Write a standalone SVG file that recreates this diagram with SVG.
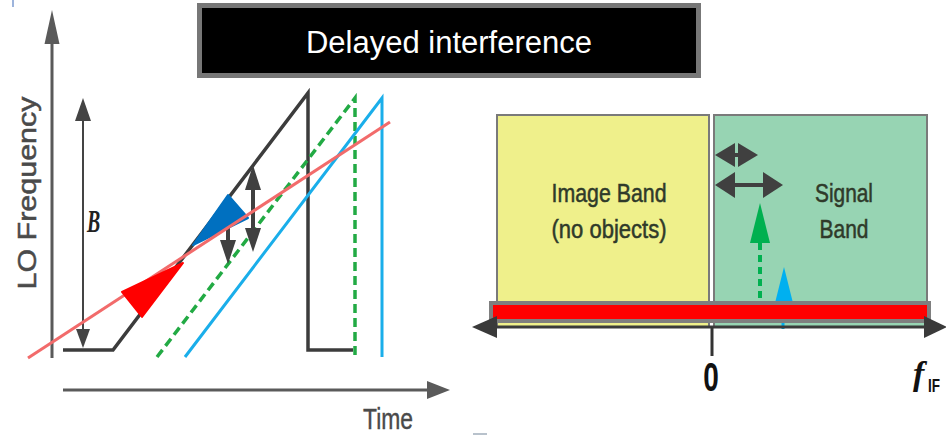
<svg xmlns="http://www.w3.org/2000/svg" width="946" height="436" viewBox="0 0 946 436">
<style>
.axis{stroke:#5a5a5a;stroke-width:3;fill:none}
.axh{fill:#5a5a5a}
.dark{stroke:#404040;stroke-width:4;fill:none}
.dah{fill:#404040}
.lbl{font-family:"Liberation Sans",Arial,sans-serif}
.box{stroke:#7a7a7a;stroke-width:2}
.bt{font-family:"Liberation Sans",Arial,sans-serif;font-size:25px;fill:#2f3a2a;stroke:#2f3a2a;stroke-width:0.5;text-anchor:middle}
</style>
<rect width="946" height="436" fill="#ffffff"/>
<line x1="13" y1="0" x2="13" y2="7" stroke="#9db4dc" stroke-width="2"/>
<line x1="473" y1="434" x2="487" y2="434" stroke="#b8c2cc" stroke-width="2"/>

<g id="title">
<rect x="199.5" y="5.5" width="499" height="70" fill="#000000" stroke="#777777" stroke-width="5"/>
<text x="449" y="53" class="lbl" font-size="31" fill="#ffffff" text-anchor="middle">Delayed interference</text>
</g>

<g id="chirp-plot">
<line class="axis" x1="52" y1="358" x2="52" y2="40"/>
<polygon class="axh" points="52,10 44.5,44 59.5,44"/>
<line class="axis" x1="63" y1="390" x2="430" y2="390"/>
<polygon class="axh" points="450,390 427,381 427,399"/>
<text transform="translate(36,193) rotate(-90)" class="lbl" font-size="25" fill="#4a4a4a" stroke="#4a4a4a" stroke-width="0.5" text-anchor="middle" textLength="193" lengthAdjust="spacingAndGlyphs">LO Frequency</text>
<text x="363" y="429" class="lbl" font-size="29" fill="#4a4a4a" stroke="#4a4a4a" stroke-width="0.4" textLength="50" lengthAdjust="spacingAndGlyphs">Time</text>

<line x1="83" y1="118" x2="83" y2="332" stroke="#444444" stroke-width="2"/>
<polygon fill="#444444" points="83,98 75,121 91,121"/>
<polygon fill="#444444" points="83,348 76,329 90,329"/>
<text transform="translate(87,232) scale(0.62,1)" font-family="'Liberation Serif','Times New Roman',serif" font-weight="bold" font-style="italic" font-size="32" fill="#222222">B</text>

<polyline points="63,350 113,350 308,93 308,350 353,350" fill="none" stroke="#3c3c3c" stroke-width="3.5" stroke-linejoin="miter"/>
<polyline points="157,357 355,98 355,357" fill="none" stroke="#22aa44" stroke-width="3.5" stroke-dasharray="9 5"/>
<polyline points="185,357 382,98 382,357" fill="none" stroke="#1aaeea" stroke-width="3"/>

<line class="dark" x1="253" y1="185" x2="253" y2="232"/>
<polygon class="dah" points="253,165 245,190 261,190"/>
<polygon class="dah" points="253,252 245,228 261,228"/>
<line class="dark" x1="228" y1="215" x2="228" y2="245"/>
<polygon class="dah" points="228,198 220,222 236,222"/>
<polygon class="dah" points="228,264 220,240 236,240"/>

<polygon points="228,195 248,218 193,245" fill="#0070c0" stroke="#0070c0" stroke-width="2" stroke-linejoin="round"/>
<line x1="28" y1="358" x2="390" y2="122" stroke="#f26b6b" stroke-width="3"/>
<polygon points="122,292 142,317 183,263" fill="#ff0000" stroke="#ff0000" stroke-width="2" stroke-linejoin="round"/>
</g>

<g id="image-band">
<rect class="box" x="497" y="115" width="212" height="212" fill="#eff08b"/>
<text class="bt" x="609" y="202" textLength="115" lengthAdjust="spacingAndGlyphs">Image Band</text>
<text class="bt" x="609" y="238" textLength="115" lengthAdjust="spacingAndGlyphs">(no objects)</text>
</g>

<g id="signal-band">
<rect class="box" x="714" y="115" width="213" height="212" fill="#97d4b3"/>
<text class="bt" x="844" y="202" textLength="58" lengthAdjust="spacingAndGlyphs">Signal</text>
<text class="bt" x="844" y="238" textLength="49" lengthAdjust="spacingAndGlyphs">Band</text>
</g>

<g id="connectors">
<line class="dark" x1="722" y1="155" x2="751" y2="155"/>
<polygon class="dah" points="715,155 735,143 735,167"/>
<polygon class="dah" points="758,155 738,143 738,167"/>
<line class="dark" x1="722" y1="185" x2="776" y2="185"/>
<polygon class="dah" points="715,185 735,172 735,198"/>
<polygon class="dah" points="783,185 763,172 763,198"/>
<line x1="760" y1="243" x2="760" y2="328" stroke="#00b050" stroke-width="4" stroke-dasharray="7 5"/>
<polygon points="760,203 750,243 770,243" fill="#00b050"/>
<polygon points="784,267 775,303 793,303" fill="#00b0f0"/>
<line x1="783" y1="321" x2="783" y2="329" stroke="#00b0f0" stroke-width="3"/>
</g>

<g id="if-axis">
<rect x="491" y="303" width="438" height="18" fill="#ff0000" stroke="#7f7f7f" stroke-width="4"/>
<line x1="495" y1="327" x2="927" y2="327" stroke="#3a3a3a" stroke-width="3"/>
<polygon fill="#3a3a3a" points="472,327 497,316 497,338"/>
<polygon fill="#3a3a3a" points="947,327 924,316 924,338"/>
<line x1="712" y1="327" x2="712" y2="356" stroke="#333333" stroke-width="3"/>
<text transform="translate(711,391) scale(0.7,1)" class="lbl" font-size="40" font-weight="bold" fill="#111111" text-anchor="middle">0</text>
<text x="913" y="385" font-family="'Liberation Serif','Times New Roman',serif" font-weight="bold" font-style="italic" font-size="34" fill="#111111">f</text>
<text x="928" y="392" class="lbl" font-weight="bold" font-size="19" fill="#111111" textLength="12" lengthAdjust="spacingAndGlyphs">IF</text>
</g>
</svg>
